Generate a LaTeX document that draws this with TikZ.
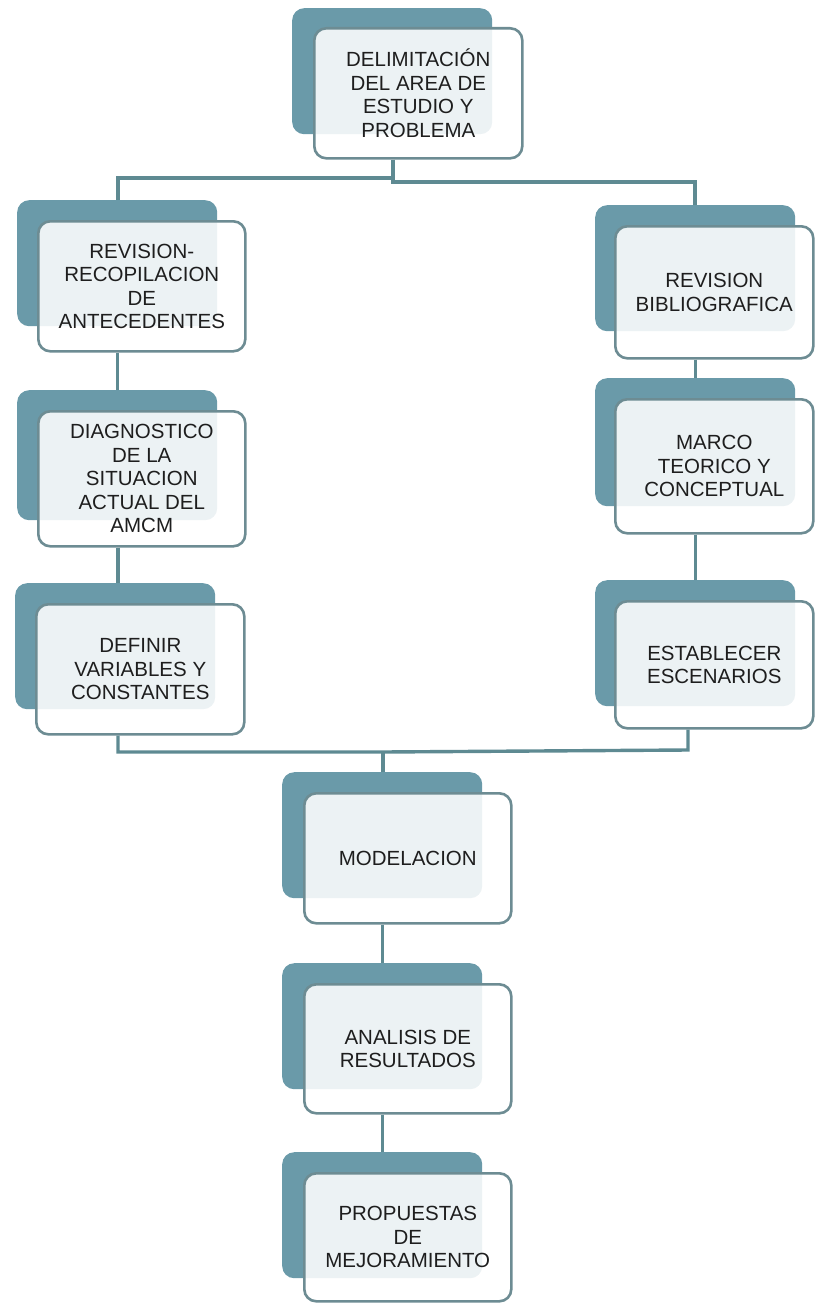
\documentclass[tikz,border=0pt]{standalone}
\usepackage{fontspec}
\setmainfont{Liberation Sans}
\usetikzlibrary{calc}
\definecolor{backc}{HTML}{6A9AA9}
\definecolor{edgec}{HTML}{6D8C93}
\definecolor{connc}{HTML}{5E8A92}
\definecolor{txtc}{HTML}{1E1E1E}
\begin{document}
\begin{tikzpicture}[x=1pt,y=-1pt,
  backbox/.style={draw=none, fill=backc, rounded corners=12pt, minimum width=200pt, minimum height=126pt, anchor=north west, inner sep=0pt},
  frontbox/.style={draw=edgec, line width=2.6pt, fill=white, fill opacity=0.88, text opacity=1, draw opacity=1, rounded corners=12pt, anchor=north west, inner sep=0pt, align=center, text=txtc, font=\fontsize{20.5}{23.5}\selectfont},
  conn/.style={draw=connc, line width=3.4pt}]
\useasboundingbox (0,0) rectangle (814,1303);

% ---------- junction points ----------
\coordinate (jt) at (393,180);
\coordinate (jtl) at (118,178);
\coordinate (jtr) at (695,182);
\coordinate (jb) at (383,752);
\coordinate (jbl) at (118,752);
\coordinate (jbr) at (688,750);

% ---------- boxes ----------
% top
\node[backbox] (b0) at (292,8) {};
\node[frontbox, minimum width=208pt, minimum height=130pt] (f0) at (313,27) {DELIMITACIÓN\\DEL AREA  DE\\ESTUDIO Y\\PROBLEMA};
% left column
\node[backbox] (b1) at (17,200) {};
\node[frontbox, minimum width=207pt, minimum height=130pt] (f1) at (37,220) {REVISION-\\RECOPILACION\\DE\\ANTECEDENTES};
\node[backbox, minimum height=130pt] (b2) at (17,390) {};
\node[frontbox, minimum width=207pt, minimum height=135pt] (f2) at (37,410) {DIAGNOSTICO\\DE LA\\SITUACION\\ACTUAL DEL\\AMCM};
\node[backbox] (b3) at (15,583) {};
\node[frontbox, minimum width=208pt, minimum height=130pt] (f3) at (35,603) {DEFINIR\\VARIABLES  Y\\CONSTANTES};
% right column
\node[backbox] (b4) at (595,205) {};
\node[frontbox, minimum width=198pt, minimum height=132pt] (f4) at (614,225) {REVISION\\BIBLIOGRAFICA};
\node[backbox, minimum height=128pt] (b5) at (595,378) {};
\node[frontbox, minimum width=198pt, minimum height=134pt] (f5) at (614,398) {MARCO\\TEORICO Y\\CONCEPTUAL};
\node[backbox] (b6) at (595,580) {};
\node[frontbox, minimum width=198pt, minimum height=127pt] (f6) at (614,600) {ESTABLECER\\ESCENARIOS};
% centre column
\node[backbox] (b7) at (282,772) {};
\node[frontbox, minimum width=207pt, minimum height=130pt] (f7) at (303,792) {MODELACION};
\node[backbox] (b8) at (282,963) {};
\node[frontbox, minimum width=207pt, minimum height=129pt] (f8) at (303,983) {ANALISIS DE\\RESULTADOS};
\node[backbox] (b9) at (282,1152) {};
\node[frontbox, minimum width=207pt, minimum height=128pt] (f9) at (303,1172) {PROPUESTAS\\DE\\MEJORAMIENTO};

% ---------- connectors ----------
\draw[conn] (f0.south -| jt) -- (jt);
\draw[conn] (jt |- jtl) -- (jtl) -- (jtl |- b1.north);
\draw[conn] (jt) |- (jtr) -- (jtr |- b4.north);
\draw[conn] (f1.south -| b2.north) -- (b2.north);
\draw[conn] (f2.south -| jtl) -- (jtl |- b3.north);
\draw[conn] (f4.south -| b5.north) -- (b5.north);
\draw[conn] (f5.south -| b6.north) -- (b6.north);
\draw[conn] (f3.south -| jbl) -- (jbl) -- (jb |- jbl) -- (jbr) -- (jbr |- f6.south);
\draw[conn] (jb) -- (jb |- b7.north);
\draw[conn] (f7.south -| b8.north) -- (b8.north);
\draw[conn] (f8.south -| b9.north) -- (b9.north);
\end{tikzpicture}
\end{document}
